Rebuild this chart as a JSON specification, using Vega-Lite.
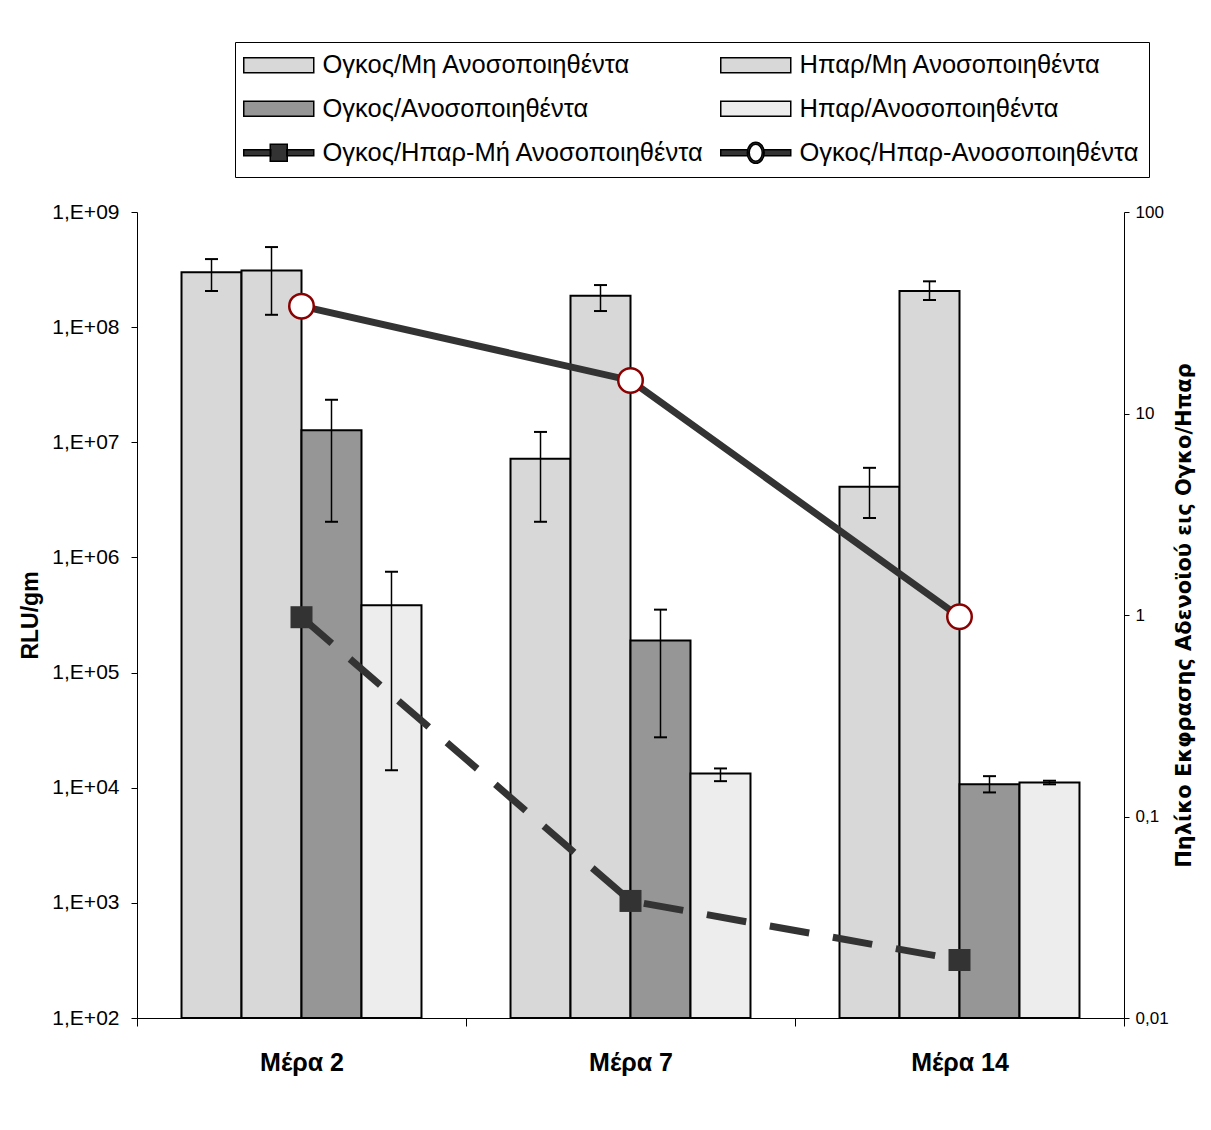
{
  "$schema": "https://vega.github.io/schema/vega-lite/v6.json",
  "width": 987,
  "height": 806,
  "autosize": {"type": "none"},
  "padding": {"left": 137, "top": 212, "right": 87, "bottom": 112},
  "background": "white",
  "config": {
    "view": {"stroke": null},
    "font": "Liberation Sans",
    "axis": {"grid": false, "domainColor": "black", "tickColor": "black", "labelColor": "black", "titleColor": "black", "labelFont": "Liberation Sans", "titleFont": "Liberation Sans"}
  },
  "datasets": {
    "bars": [
      {"day": "Μέρα 2", "series": "Ογκος/Μη Ανοσοποιηθέντα", "value": 3.0e8, "lo": 2.06e8, "hi": 3.9e8},
      {"day": "Μέρα 2", "series": "Ηπαρ/Μη Ανοσοποιηθέντα", "value": 3.1e8, "lo": 1.28e8, "hi": 4.96e8},
      {"day": "Μέρα 2", "series": "Ογκος/Ανοσοποιηθέντα", "value": 1.27e7, "lo": 2.04e6, "hi": 2.34e7},
      {"day": "Μέρα 2", "series": "Ηπαρ/Ανοσοποιηθέντα", "value": 3.85e5, "lo": 1.42e4, "hi": 7.5e5},
      {"day": "Μέρα 7", "series": "Ογκος/Μη Ανοσοποιηθέντα", "value": 7.2e6, "lo": 2.04e6, "hi": 1.23e7},
      {"day": "Μέρα 7", "series": "Ηπαρ/Μη Ανοσοποιηθέντα", "value": 1.87e8, "lo": 1.38e8, "hi": 2.32e8},
      {"day": "Μέρα 7", "series": "Ογκος/Ανοσοποιηθέντα", "value": 1.9e5, "lo": 2.74e4, "hi": 3.52e5},
      {"day": "Μέρα 7", "series": "Ηπαρ/Ανοσοποιηθέντα", "value": 1.33e4, "lo": 1.14e4, "hi": 1.47e4},
      {"day": "Μέρα 14", "series": "Ογκος/Μη Ανοσοποιηθέντα", "value": 4.1e6, "lo": 2.2e6, "hi": 6.0e6},
      {"day": "Μέρα 14", "series": "Ηπαρ/Μη Ανοσοποιηθέντα", "value": 2.06e8, "lo": 1.72e8, "hi": 2.5e8},
      {"day": "Μέρα 14", "series": "Ογκος/Ανοσοποιηθέντα", "value": 1.07e4, "lo": 9.1e3, "hi": 1.26e4},
      {"day": "Μέρα 14", "series": "Ηπαρ/Ανοσοποιηθέντα", "value": 1.11e4, "lo": 1.07e4, "hi": 1.15e4}
    ],
    "ratios": [
      {"day": "Μέρα 2", "series": "Ογκος/Ηπαρ-Μή Ανοσοποιηθέντα", "ratio": 0.975},
      {"day": "Μέρα 7", "series": "Ογκος/Ηπαρ-Μή Ανοσοποιηθέντα", "ratio": 0.0381},
      {"day": "Μέρα 14", "series": "Ογκος/Ηπαρ-Μή Ανοσοποιηθέντα", "ratio": 0.0194},
      {"day": "Μέρα 2", "series": "Ογκος/Ηπαρ-Ανοσοποιηθέντα", "ratio": 34.1},
      {"day": "Μέρα 7", "series": "Ογκος/Ηπαρ-Ανοσοποιηθέντα", "ratio": 14.6},
      {"day": "Μέρα 14", "series": "Ογκος/Ηπαρ-Ανοσοποιηθέντα", "ratio": 0.98}
    ]
  },
  "layer": [
    {
      "data": {"name": "bars"},
      "encoding": {
        "x": {
          "field": "day", "type": "nominal", "sort": ["Μέρα 2", "Μέρα 7", "Μέρα 14"],
          "scale": {"paddingInner": 0, "paddingOuter": 0},
          "axis": {"title": null, "labelAngle": 0, "labelFontSize": 25, "labelFontWeight": "bold", "labelPadding": 24, "tickSize": 8, "tickBand": "extent", "domainColor": "black", "tickColor": "black"}
        },
        "xOffset": {
          "field": "series", "type": "nominal",
          "scale": {"domain": ["Ογκος/Μη Ανοσοποιηθέντα", "Ηπαρ/Μη Ανοσοποιηθέντα", "Ογκος/Ανοσοποιηθέντα", "Ηπαρ/Ανοσοποιηθέντα"], "paddingInner": 0, "paddingOuter": 0.742}
        }
      },
      "layer": [
        {
          "mark": {"type": "bar", "stroke": "black", "strokeWidth": 2, "opacity": 1},
          "encoding": {
            "y": {
              "field": "value", "type": "quantitative", "title": "RLU/gm",
              "scale": {"type": "log", "domain": [100, 1000000000], "nice": false},
              "axis": {"values": [100, 1000, 10000, 100000, 1000000, 10000000, 100000000, 1000000000], "labelExpr": "'1,E+0' + round(log(datum.value)/LN10)", "labelFontSize": 21, "tickSize": 6, "labelPadding": 12, "titleFontSize": 23, "titleFontWeight": "bold", "titlePadding": 9}
            },
            "y2": {"datum": 100},
            "color": {
              "field": "series", "type": "nominal",
              "scale": {
                "domain": ["Ογκος/Μη Ανοσοποιηθέντα", "Ηπαρ/Μη Ανοσοποιηθέντα", "Ογκος/Ανοσοποιηθέντα", "Ηπαρ/Ανοσοποιηθέντα", "Ογκος/Ηπαρ-Μή Ανοσοποιηθέντα", "Ογκος/Ηπαρ-Ανοσοποιηθέντα"],
                "range": ["#d8d8d8", "#d8d8d8", "#969696", "#ededed", "#333333", "#333333"]
              },
              "legend": {
                "orient": "none", "legendX": 98, "legendY": -170,
                "direction": "horizontal", "columns": 2, "gridAlign": "all", "title": null,
                "labelFont": "Liberation Sans", "labelFontSize": 25.5, "labelColor": "black", "labelLimit": 600,
                "symbolSize": 100, "labelOffset": 52, "rowPadding": 16, "columnPadding": 12,
                "padding": 10, "strokeColor": "black", "fillColor": "white",
                "symbolType": {"expr": "datum.index < 4 ? 'M-2.8,-1.5H11.2V1.5H-2.8Z' : (datum.index == 4 ? 'M-2.8,-0.6H2.6V0.6H-2.8Z M2.5,-1.7H5.9V1.7H2.5Z M5.8,-0.6H11.2V0.6H5.8Z' : 'M-2.8,-0.6H2.6V0.6H-2.8Z M5.8,-0.6H11.2V0.6H5.8Z M2.5,0A1.7,2.1,0,1,1,5.9,0A1.7,2.1,0,1,1,2.5,0Z M2.9,0A1.3,1.7,0,1,0,5.5,0A1.3,1.7,0,1,0,2.9,0Z')"}
              }
            }
          }
        },
        {
          "mark": {"type": "rule", "color": "black", "strokeWidth": 1.5},
          "encoding": {
            "y": {"field": "lo", "type": "quantitative", "title": "RLU/gm", "scale": {"type": "log", "domain": [100, 1000000000], "nice": false}},
            "y2": {"field": "hi"}
          }
        },
        {
          "mark": {"type": "tick", "color": "black", "thickness": 2, "size": 13, "opacity": 1},
          "encoding": {
            "y": {"field": "lo", "type": "quantitative", "title": "RLU/gm", "scale": {"type": "log", "domain": [100, 1000000000], "nice": false}}
          }
        },
        {
          "mark": {"type": "tick", "color": "black", "thickness": 2, "size": 13, "opacity": 1},
          "encoding": {
            "y": {"field": "hi", "type": "quantitative", "title": "RLU/gm", "scale": {"type": "log", "domain": [100, 1000000000], "nice": false}}
          }
        }
      ]
    },
    {
      "data": {"name": "ratios"},
      "encoding": {
        "x": {"field": "day", "type": "nominal", "sort": ["Μέρα 2", "Μέρα 7", "Μέρα 14"]},
        "y": {
          "field": "ratio", "type": "quantitative", "title": "Πηλίκο Εκφρασης Αδενοϊού εις Ογκο/Ηπαρ",
          "scale": {"type": "log", "domain": [0.01, 100], "nice": false},
          "axis": {"orient": "right", "values": [0.01, 0.1, 1, 10, 100], "labelExpr": "replace(toString(datum.value), '.', ',')", "labelFontSize": 17, "tickSize": 5, "labelPadding": 6, "titleFont": "DejaVu Sans", "titleFontSize": 21, "titleFontWeight": "bold", "titleAngle": 270, "titlePadding": 26}
        }
      },
      "layer": [
        {
          "transform": [{"filter": "datum.series == 'Ογκος/Ηπαρ-Μή Ανοσοποιηθέντα'"}],
          "mark": {"type": "line", "color": "#333333", "strokeWidth": 7, "strokeDash": [40, 24]}
        },
        {
          "transform": [{"filter": "datum.series == 'Ογκος/Ηπαρ-Ανοσοποιηθέντα'"}],
          "mark": {"type": "line", "color": "#333333", "strokeWidth": 7}
        },
        {
          "transform": [{"filter": "datum.series == 'Ογκος/Ηπαρ-Μή Ανοσοποιηθέντα'"}],
          "mark": {"type": "point", "shape": "square", "size": 484, "filled": true, "color": "#333333", "opacity": 1}
        },
        {
          "transform": [{"filter": "datum.series == 'Ογκος/Ηπαρ-Ανοσοποιηθέντα'"}],
          "mark": {"type": "point", "shape": "circle", "size": 600, "filled": true, "fill": "white", "stroke": "#8b0000", "strokeWidth": 2.5, "opacity": 1}
        }
      ]
    }
  ],
  "resolve": {"scale": {"y": "independent"}}
}
